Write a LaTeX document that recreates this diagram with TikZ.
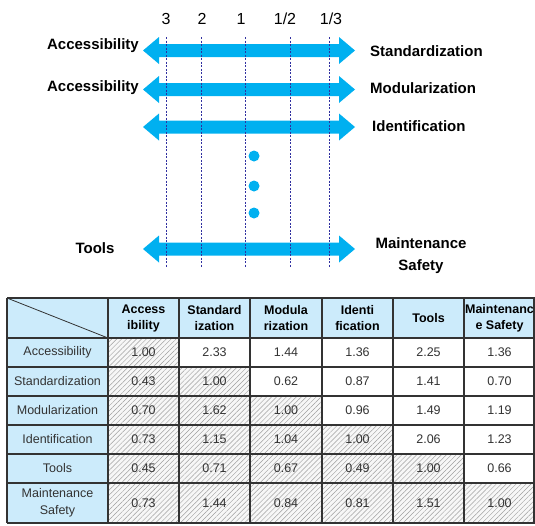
\documentclass[tikz,border=0pt]{standalone}
\usepackage{fontspec}
\setmainfont{Liberation Sans}
\usetikzlibrary{patterns.meta}
\definecolor{arrowblue}{HTML}{00B0F0}
\definecolor{dashblue}{HTML}{3030A0}
\definecolor{hdrblue}{HTML}{CCEBFB}
\definecolor{gridc}{HTML}{333333}
\tikzset{
  lbl/.style={font=\fontsize{15}{17}\selectfont\bfseries, inner sep=0pt},
  scalelbl/.style={font=\fontsize{16}{18}\selectfont, inner sep=0pt},
  guide/.style={dashblue, line width=0.8pt, dash pattern=on 2pt off 1.5pt},
  dotmark/.style={circle, fill=arrowblue, minimum size=11pt, inner sep=0pt},
  cell/.style={font=\fontsize{12.5}{17}\selectfont, inner sep=0pt, align=center, text=black!80},
  hcell/.style={font=\fontsize{12.5}{16}\selectfont\bfseries, inner sep=0pt, align=center},
  hatch/.style={fill=gray!6, postaction={pattern={Lines[angle=45,distance=3.5pt,line width=0.45pt]}, pattern color=gray!75}},
  gridline/.style={gridc, line width=1.1pt}
}
\newcommand{\dblarrow}[3]{% y, xleft, xright
  \fill[arrowblue] (#2,#1) -- (#2+16,#1-13.5) -- (#2+16,#1-6.5) -- (#3-16,#1-6.5) -- (#3-16,#1-13.5)
    -- (#3,#1) -- (#3-16,#1+13.5) -- (#3-16,#1+6.5) -- (#2+16,#1+6.5) -- (#2+16,#1+13.5) -- cycle;}
\begin{document}
\begin{tikzpicture}[x=1pt,y=-1pt]
\useasboundingbox (0,0) rectangle (535,525);
% arrows
\dblarrow{50.5}{143}{355}
\dblarrow{89.5}{143}{355}
\dblarrow{127}{143}{355}
\dblarrow{249}{143}{355}
% guides
\foreach \x/\n in {166/3,201/2,245/1,290/1\slash 2,329/1\slash 3}{
  \draw[guide] (\x,37) -- (\x,268);
}
\node[scalelbl] (s3) at (166,19) {3};
\node[scalelbl] (s2) at (202,19) {2};
\node[scalelbl] (s1) at (241,19) {1};
\node[scalelbl] (s12) at (285,19) {1/2};
\node[scalelbl] (s13) at (331,19) {1/3};
% labels
\node[lbl, anchor=east] (l1) at (139,46) {Accessibility};
\node[lbl, anchor=east] (l2) at (139,88) {Accessibility};
\node[lbl, anchor=center] (l4) at (95,248) {Tools};
\node[lbl, anchor=west] (r1) at (370,51) {Standardization};
\node[lbl, anchor=west] (r2) at (370,88) {Modularization};
\node[lbl, anchor=west] (r3) at (372,126) {Identification};
\node[lbl] (r4a) at (421,243) {Maintenance};
\node[lbl] (r4b) at (421,267) {Safety};
% dots
\node[dotmark] (d1) at (254,156) {};
\node[dotmark] (d2) at (254,186) {};
\node[dotmark] (d3) at (254,213) {};
% table
\begin{scope}
\clip (0,290) rectangle (535,525);
\fill[hdrblue] (7,298) rectangle (537,338);
\fill[hdrblue] (7,338) rectangle (108,523);
\def\cx{{108,179,250,322,393,464,537}}
\def\ry{{338,367,396,425,454,483,523}}
\foreach \i in {0,...,5}{
  \foreach \j in {0,...,5}{
    \pgfmathsetmacro{\xa}{\cx[\j]}\pgfmathsetmacro{\xb}{\cx[\j+1]}
    \pgfmathsetmacro{\ya}{\ry[\i]}\pgfmathsetmacro{\yb}{\ry[\i+1]}
    \ifnum\j>\i
      \fill[white] (\xa,\ya) rectangle (\xb,\yb);
    \else
      \path[hatch] (\xa,\ya) rectangle (\xb,\yb);
    \fi
  }
}
\draw[gridc, line width=0.8pt] (7,298) -- (108,338);
\foreach \x in {7,108,179,250,322,393,464,534}{ \draw[gridline] (\x,298) -- (\x,523); }
\foreach \y in {298,338,367,396,425,454,483,523}{ \draw[gridline] (7,\y) -- (537,\y); }
\end{scope}
% header texts
\node[hcell] (h1) at (143.5,318) {Access\\ibility};
\node[hcell] (h2) at (214.5,318) {Standard\\ization};
\node[hcell] (h3) at (286,318) {Modula\\rization};
\node[hcell] (h4) at (357.5,318) {Identi\\fication};
\node[hcell] (h5) at (428.5,318) {Tools};
\begin{scope}
\clip (464,298) rectangle (535,338);
\node[hcell] (h6) at (499.5,318) {Maintenanc\\e Safety};
\end{scope}
% row headers
\node[cell] (ra) at (57.5,352.5) {Accessibility};
\node[cell] (rb) at (57.5,381.5) {Standardization};
\node[cell] (rc) at (57.5,410.5) {Modularization};
\node[cell] (rd) at (57.5,439.5) {Identification};
\node[cell] (re) at (57.5,468.5) {Tools};
\node[cell] (rf) at (57.5,503) {Maintenance\\Safety};
% values
\foreach \r/\y in {1/352.5,2/381.5,3/410.5,4/439.5,5/468.5,6/503}{
  \foreach \c/\x in {1/143.5,2/214.5,3/286,4/357.5,5/428.5,6/499.5}{
    \coordinate (p\r\c) at (\x,\y);
  }
}
\node[cell] (v11) at (p11) {1.00}; \node[cell] (v12) at (p12) {2.33}; \node[cell] (v13) at (p13) {1.44};
\node[cell] (v14) at (p14) {1.36}; \node[cell] (v15) at (p15) {2.25}; \node[cell] (v16) at (p16) {1.36};
\node[cell] (v21) at (p21) {0.43}; \node[cell] (v22) at (p22) {1.00}; \node[cell] (v23) at (p23) {0.62};
\node[cell] (v24) at (p24) {0.87}; \node[cell] (v25) at (p25) {1.41}; \node[cell] (v26) at (p26) {0.70};
\node[cell] (v31) at (p31) {0.70}; \node[cell] (v32) at (p32) {1.62}; \node[cell] (v33) at (p33) {1.00};
\node[cell] (v34) at (p34) {0.96}; \node[cell] (v35) at (p35) {1.49}; \node[cell] (v36) at (p36) {1.19};
\node[cell] (v41) at (p41) {0.73}; \node[cell] (v42) at (p42) {1.15}; \node[cell] (v43) at (p43) {1.04};
\node[cell] (v44) at (p44) {1.00}; \node[cell] (v45) at (p45) {2.06}; \node[cell] (v46) at (p46) {1.23};
\node[cell] (v51) at (p51) {0.45}; \node[cell] (v52) at (p52) {0.71}; \node[cell] (v53) at (p53) {0.67};
\node[cell] (v54) at (p54) {0.49}; \node[cell] (v55) at (p55) {1.00}; \node[cell] (v56) at (p56) {0.66};
\node[cell] (v61) at (p61) {0.73}; \node[cell] (v62) at (p62) {1.44}; \node[cell] (v63) at (p63) {0.84};
\node[cell] (v64) at (p64) {0.81}; \node[cell] (v65) at (p65) {1.51}; \node[cell] (v66) at (p66) {1.00};
\end{tikzpicture}
\end{document}
